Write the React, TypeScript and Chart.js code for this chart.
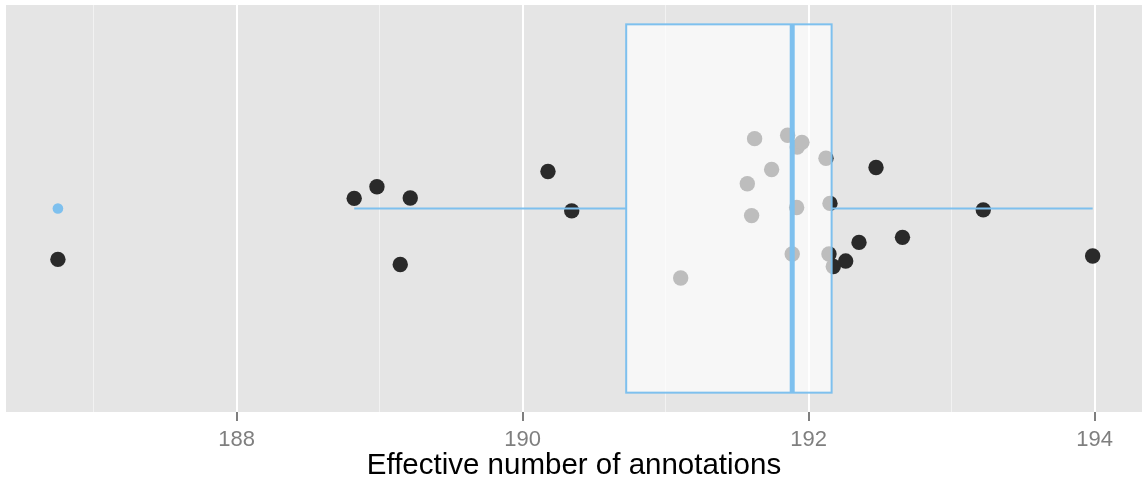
import { useEffect, useRef } from 'react';
import { Chart, registerables } from 'chart.js';

Chart.register(...registerables);

// Effective number of annotations, one value per run
const annotations = [
  186.75, 188.822, 188.981, 189.214, 189.144, 190.177, 190.343, 191.105, 191.571,
  191.601, 191.622, 191.741, 191.853, 191.885, 191.916, 191.92, 191.953, 192.121,
  192.142, 192.149, 192.172, 192.259, 192.352, 192.471, 192.656, 193.221, 193.986,
];
// Vertical jitter offset of each point around the box centre
const jitter = [
  -0.15, 0.03, 0.064, 0.031, -0.165, 0.109, -0.007, -0.205, 0.073,
  -0.021, 0.206, 0.115, 0.216, -0.134, 0.003, 0.181, 0.195, 0.148,
  -0.134, 0.015, -0.171, -0.155, -0.1, 0.121, -0.085, -0.004, -0.14,
];

const gridValues = [187, 188, 189, 190, 191, 192, 193, 194];
const labelledTicks = [188, 190, 192, 194];
const X_MIN = 186.387;
const X_MAX = 194.331;
const BOX_HALF = 0.543;

const FONT = "'Liberation Sans', Arial, Helvetica, sans-serif";
const BLUE = '#7EC0EE';

function quantile(sorted: number[], p: number): number {
  const pos = (sorted.length - 1) * p;
  const lo = Math.floor(pos);
  const hi = Math.ceil(pos);
  return sorted[lo] + (sorted[hi] - sorted[lo]) * (pos - lo);
}

function boxStats(values: number[]) {
  const s = [...values].sort((a, b) => a - b);
  const q1 = quantile(s, 0.25);
  const med = quantile(s, 0.5);
  const q3 = quantile(s, 0.75);
  const iqr = q3 - q1;
  const inside = s.filter((v) => v >= q1 - 1.5 * iqr && v <= q3 + 1.5 * iqr);
  const outliers = s.filter((v) => v < q1 - 1.5 * iqr || v > q3 + 1.5 * iqr);
  return { q1, med, q3, lo: inside[0], hi: inside[inside.length - 1], outliers };
}

const panelBackground = {
  id: 'panelBackground',
  beforeDraw(chart: any) {
    const { ctx, chartArea } = chart;
    ctx.save();
    ctx.fillStyle = '#E5E5E5';
    ctx.fillRect(chartArea.left, chartArea.top, chartArea.right - chartArea.left, chartArea.bottom - chartArea.top);
    ctx.restore();
  },
};

const boxLayer = {
  id: 'boxLayer',
  afterDatasetsDraw(chart: any) {
    const { ctx } = chart;
    const xs = chart.scales.x;
    const ys = chart.scales.y;
    const st = boxStats(annotations);
    const px = (v: number) => xs.getPixelForValue(v);
    const py = (v: number) => ys.getPixelForValue(v);
    const yc = py(0);
    const yTop = py(BOX_HALF);
    const yBot = py(-BOX_HALF);

    ctx.save();
    // whiskers
    ctx.strokeStyle = BLUE;
    ctx.lineWidth = 2;
    ctx.beginPath();
    ctx.moveTo(px(st.lo), yc);
    ctx.lineTo(px(st.q1), yc);
    ctx.moveTo(px(st.q3), yc);
    ctx.lineTo(px(st.hi), yc);
    ctx.stroke();

    // box with translucent fill
    ctx.fillStyle = 'rgba(255,255,255,0.69)';
    ctx.fillRect(px(st.q1), yTop, px(st.q3) - px(st.q1), yBot - yTop);
    ctx.strokeRect(px(st.q1), yTop, px(st.q3) - px(st.q1), yBot - yTop);

    // median
    ctx.lineWidth = 5;
    ctx.beginPath();
    ctx.moveTo(px(st.med), yTop);
    ctx.lineTo(px(st.med), yBot);
    ctx.stroke();

    // outliers
    ctx.fillStyle = BLUE;
    st.outliers.forEach((v) => {
      ctx.beginPath();
      ctx.arc(px(v), yc, 5.3, 0, Math.PI * 2);
      ctx.fill();
    });
    ctx.restore();
  },
};

export default function App() {
  const ref = useRef<HTMLCanvasElement | null>(null);

  useEffect(() => {
    if (!ref.current) return;
    const chart = new Chart(ref.current, {
      type: 'scatter',
      data: {
        datasets: [
          {
            data: annotations.map((v, i) => ({ x: v, y: jitter[i] })),
            backgroundColor: '#2A2A2A',
            borderWidth: 0,
            pointRadius: 7.7,
            pointHoverRadius: 7.7,
          },
        ],
      },
      options: {
        animation: false,
        responsive: false,
        devicePixelRatio: 1,
        events: [],
        layout: { autoPadding: false, padding: { left: 6, top: 5, right: 0, bottom: 0 } },
        plugins: { legend: { display: false }, tooltip: { enabled: false } },
        scales: {
          x: {
            type: 'linear',
            min: X_MIN,
            max: X_MAX,
            afterBuildTicks: (s: any) => {
              s.ticks = gridValues.map((v) => ({ value: v }));
            },
            afterFit: (s: any) => {
              s.height = 75;
            },
            border: { display: false },
            grid: {
              color: (c: any) => (labelledTicks.includes(c.tick?.value) ? '#FFFFFF' : '#F2F2F2'),
              lineWidth: (c: any) => (labelledTicks.includes(c.tick?.value) ? 2 : 1),
              tickColor: (c: any) => (labelledTicks.includes(c.tick?.value) ? '#7F7F7F' : 'rgba(0,0,0,0)'),
              tickLength: 9,
              tickWidth: 2,
            },
            ticks: {
              autoSkip: false,
              maxRotation: 0,
              padding: 6,
              color: '#7F7F7F',
              font: { family: FONT, size: 22 },
              callback: (v: any) => (labelledTicks.includes(Number(v)) ? String(v) : ''),
            },
            title: {
              display: true,
              text: 'Effective number of annotations',
              color: '#000000',
              font: { family: FONT, size: 29.5 },
              padding: { top: 0, bottom: 3 },
            },
          },
          y: { type: 'linear', min: -0.6, max: 0.6, display: false },
        },
      },
      plugins: [panelBackground, boxLayer],
    });
    return () => chart.destroy();
  }, []);

  return (
    <div style={{ position: 'fixed', left: 0, top: 0, width: 1142, height: 487, background: '#FFFFFF' }}>
      <canvas ref={ref} width={1142} height={487} style={{ display: 'block' }} />
    </div>
  );
}
